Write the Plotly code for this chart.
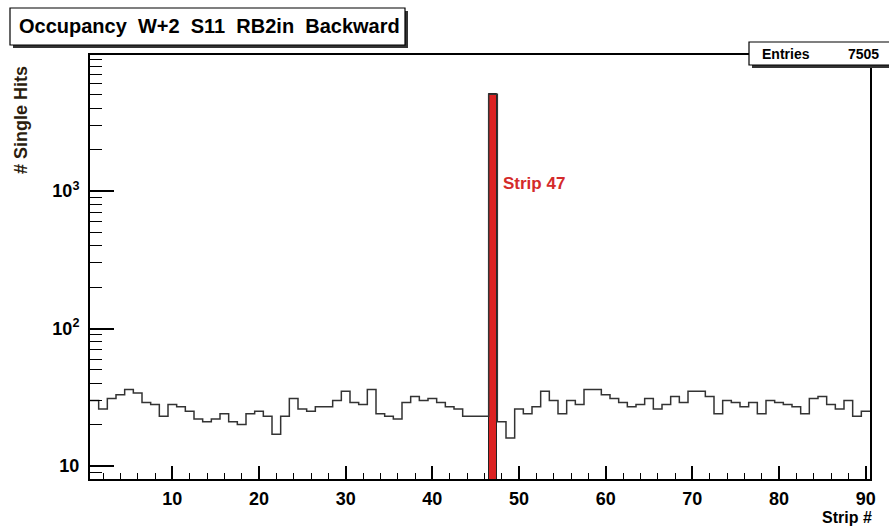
import plotly.graph_objects as go

# ---- data ----
strips = list(range(1, 91))
counts = [30, 26, 31, 33, 36, 34, 29, 28, 23, 28,
          27, 25, 22, 21, 22, 24, 21, 20, 24, 25,
          23, 17, 23, 31, 26, 25, 27, 27, 30, 35,
          29, 28, 36, 24, 23, 22, 29, 32, 30, 31,
          29, 27, 26, 23, 23, 23, 5052, 21, 16, 26,
          24, 27, 35, 30, 24, 30, 28, 36, 36, 33,
          31, 29, 27, 28, 31, 26, 28, 32, 29, 35,
          35, 32, 24, 30, 29, 27, 29, 24, 30, 29,
          28, 27, 24, 31, 32, 28, 26, 30, 23, 25]
hot_strip = 47
y_tickvals = [10, 100, 1000]
y_ticktext = ["10", "10<sup>2</sup>", "10<sup>3</sup>"]
x_tickvals = [10, 20, 30, 40, 50, 60, 70, 80, 90]
x_ticktext = ["10", "20", "30", "40", "50", "60", "70", "80", "90"]
title_text = "Occupancy\u00a0\u00a0W+2\u00a0\u00a0S11\u00a0\u00a0RB2in\u00a0\u00a0Backward"
entries = sum(counts)

# ---- geometry helpers ----
W, H = 889, 531
ML, MR, MT, MB = 90, 19, 55, 52
PW, PH = W - ML - MR, H - MT - MB


def px(x):
    return (x - ML) / PW


def py(y):
    return (H - MB - y) / PH


FONT = "Liberation Sans, Arial, sans-serif"

edges = [s - 0.5 for s in strips] + [strips[-1] + 0.5]
step_y = counts + [counts[-1]]

minor_y = [m * 10 ** e for e in range(0, 4) for m in range(2, 10)]

fig = go.Figure()
fig.add_trace(go.Scatter(x=edges, y=step_y, mode="lines", line_shape="hv",
                         line=dict(color="#333333", width=1.5),
                         hoverinfo="skip", showlegend=False))
fig.add_trace(go.Bar(x=[hot_strip], y=[counts[hot_strip - 1]], width=1,
                     marker=dict(color="#dc2222", line=dict(color="#222222", width=1)),
                     showlegend=False))

fig.update_layout(
    width=W, height=H, autosize=False,
    margin=dict(l=ML, r=MR, t=MT, b=MB),
    paper_bgcolor="white", plot_bgcolor="white",
    font=dict(family=FONT, color="black"),
    xaxis=dict(range=[0.5, 90.5], showgrid=False, zeroline=False,
               showline=True, linecolor="black", linewidth=2, mirror=True,
               tickmode="array", tickvals=x_tickvals, ticktext=x_ticktext,
               ticks="inside", ticklen=13, tickwidth=1.5, tickcolor="black",
               tickfont=dict(size=18, family=FONT, weight="bold"),
               minor=dict(ticks="inside", ticklen=6, tickwidth=1.2, tickcolor="black",
                          tickmode="linear", tick0=0, dtick=2),
               ticklabelstandoff=2),
    yaxis=dict(type="log", range=[0.9055, 3.989], showgrid=False, zeroline=False,
               showline=True, linecolor="black", linewidth=2, mirror=True,
               tickmode="array", tickvals=y_tickvals, ticktext=y_ticktext,
               ticks="inside", ticklen=24, tickwidth=1.5, tickcolor="black",
               tickfont=dict(size=18, family=FONT, weight="bold"),
               minor=dict(ticks="inside", ticklen=12, tickwidth=1.2, tickcolor="black",
                          tickmode="array", tickvals=minor_y),
               ticklabelstandoff=5),
    bargap=0,
)

shapes = []
# title box shadow + box
shapes.append(dict(type="rect", xref="paper", yref="paper",
                   x0=px(13), x1=px(408), y0=py(48), y1=py(11),
                   fillcolor="#333333", line=dict(width=0), layer="above"))
shapes.append(dict(type="rect", xref="paper", yref="paper",
                   x0=px(10), x1=px(405), y0=py(45), y1=py(8),
                   fillcolor="white", line=dict(color="black", width=1.2), layer="above"))
# stats box shadow + box
shapes.append(dict(type="rect", xref="paper", yref="paper",
                   x0=px(752), x1=px(895), y0=py(68), y1=py(45),
                   fillcolor="#333333", line=dict(width=0), layer="above"))
shapes.append(dict(type="rect", xref="paper", yref="paper",
                   x0=px(749), x1=px(892), y0=py(65), y1=py(42),
                   fillcolor="white", line=dict(color="black", width=1.2), layer="above"))
fig.update_layout(shapes=shapes)

ann = [
    dict(text=title_text, xref="paper", yref="paper", x=px(209), y=py(26),
         xanchor="center", yanchor="middle", showarrow=False,
         font=dict(size=20, family=FONT, weight="bold", color="black")),
    dict(text="Entries", xref="paper", yref="paper", x=px(760), y=py(54),
         xanchor="left", yanchor="middle", showarrow=False,
         font=dict(size=14, family=FONT, weight="bold", color="black")),
    dict(text=str(entries), xref="paper", yref="paper", x=px(881), y=py(54),
         xanchor="right", yanchor="middle", showarrow=False,
         font=dict(size=14, family=FONT, weight="bold", color="black")),
    dict(text="# Single Hits", xref="paper", yref="paper", x=px(21), y=py(120),
         xanchor="center", yanchor="middle", textangle=-90, showarrow=False,
         font=dict(size=18, family=FONT, weight="bold", color="#2b1d0e")),
    dict(text="Strip #", xref="paper", yref="paper", x=px(874), y=py(517),
         xanchor="right", yanchor="middle", showarrow=False,
         font=dict(size=16, family=FONT, weight="bold", color="black")),
    dict(text="Strip " + str(hot_strip), xref="paper", yref="paper", x=px(501), y=py(183),
         xanchor="left", yanchor="middle", showarrow=False,
         font=dict(size=17, family=FONT, weight="bold", color="#d42a2a")),
]
fig.update_layout(annotations=ann)

fig.write_html("out.html", config={"displayModeBar": False},
               post_script="document.body.style.margin='0';document.body.style.padding='0';")
